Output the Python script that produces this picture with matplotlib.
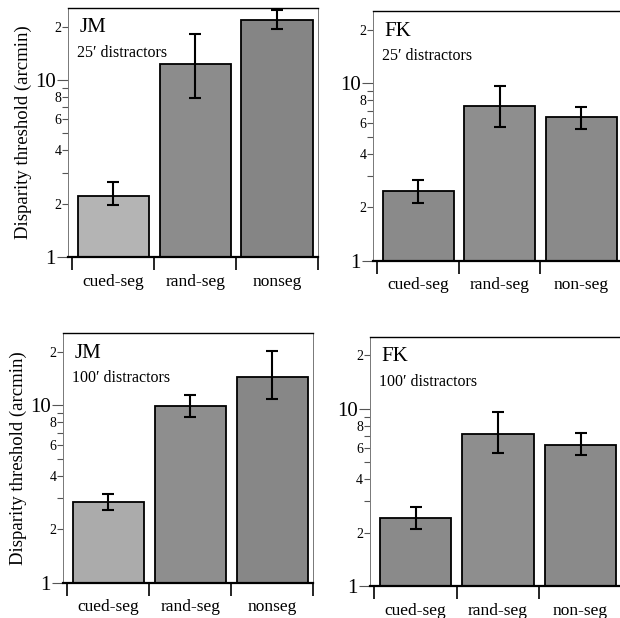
import matplotlib
matplotlib.use('Agg')
import matplotlib.pyplot as plt
import numpy as np

plt.rcParams['font.family'] = ['Liberation Serif', 'DejaVu Serif']

# Datos (arcmin)
cond_jm = ['cued-seg', 'rand-seg', 'nonseg']
cond_fk = ['cued-seg', 'rand-seg', 'non-seg']

jm25 = [2.21, 12.3, 21.8]
jm25_lo = [1.97, 7.9, 19.4]
jm25_hi = [2.65, 18.2, 24.9]

fk25 = [2.46, 7.44, 6.46]
fk25_lo = [2.13, 5.68, 5.53]
fk25_hi = [2.84, 9.6, 7.36]

jm100 = [2.85, 9.85, 14.4]
jm100_lo = [2.57, 8.56, 10.8]
jm100_hi = [3.16, 11.4, 20.3]

fk100 = [2.42, 7.22, 6.26]
fk100_lo = [2.1, 5.65, 5.5]
fk100_hi = [2.8, 9.6, 7.33]

panels = [
    # (pos [left, bottom, w, h], subject, distractor, labels, vals, lo, hi, colors, ylabel)
    ([0.110, 0.584, 0.403, 0.403], 'JM', '25\u2032 distractors', cond_jm,
     jm25, jm25_lo, jm25_hi, ['#b4b4b4', '#8c8c8c', '#858585'], True),
    ([0.602, 0.578, 0.401, 0.404], 'FK', '25\u2032 distractors', cond_fk,
     fk25, fk25_lo, fk25_hi, ['#8a8a8a', '#8e8e8e', '#8a8a8a'], False),
    ([0.102, 0.057, 0.403, 0.404], 'JM', '100\u2032 distractors', cond_jm,
     jm100, jm100_lo, jm100_hi, ['#ababab', '#8e8e8e', '#878787'], True),
    ([0.597, 0.052, 0.406, 0.403], 'FK', '100\u2032 distractors', cond_fk,
     fk100, fk100_lo, fk100_hi, ['#8a8a8a', '#8e8e8e', '#8a8a8a'], False),
]

fig = plt.figure(figsize=(6.2, 6.18), dpi=100)

for pos, subj, dist, labels, vals, lo, hi, cols, ylab in panels:
    ax = fig.add_axes(pos)
    vals = np.array(vals)
    err = [vals - np.array(lo), np.array(hi) - vals]
    x = np.arange(len(vals)) + 0.5
    ax.bar(x, vals, width=0.87, bottom=0, color=cols, edgecolor='black',
           linewidth=1.3, zorder=2)
    ax.errorbar(x, vals, yerr=err, fmt='none', ecolor='black', elinewidth=1.5,
                capsize=4, capthick=1.5, zorder=3)

    ax.set_yscale('log')
    ax.set_ylim(1, 25.5)
    ax.set_xlim(-0.05, 3.0)

    # eixo y: rótulos grandes em 1 e 10, pequenos nos demais
    ax.set_yticks([1, 10])
    ax.set_yticklabels(['1', '10'], fontsize=15)
    minor = [2, 3, 4, 5, 6, 7, 8, 9, 20]
    ax.set_yticks(minor, minor=True)
    ax.set_yticklabels(['2', '', '4', '', '6', '', '8', '', '2'], minor=True,
                       fontsize=10)
    ax.tick_params(axis='y', which='major', length=8, width=0.8, color='#555555',
                   pad=1)
    ax.tick_params(axis='y', which='minor', length=4, width=0.8, color='#555555',
                   pad=1)

    # eixo x: traços nas divisões, rótulos no centro
    ax.set_xticks([0, 1, 2, 3])
    ax.set_xticklabels([])
    ax.set_xticks(x, minor=True)
    ax.set_xticklabels(labels, minor=True, fontsize=12.5)
    ax.tick_params(axis='x', which='major', length=9, width=1.2, direction='out')
    ax.tick_params(axis='x', which='minor', length=0, pad=12)

    ax.spines['left'].set_color('#777777')
    ax.spines['left'].set_linewidth(0.7)
    ax.spines['right'].set_color('#777777')
    ax.spines['right'].set_linewidth(0.7)
    ax.spines['top'].set_linewidth(1.0)
    ax.spines['bottom'].set_linewidth(1.6)

    ax.text(0.045, 0.92, subj, transform=ax.transAxes, fontsize=15,
            va='center', ha='left')
    ax.text(0.035, 0.82, dist, transform=ax.transAxes, fontsize=11.5,
            va='center', ha='left')

    if ylab:
        ax.set_ylabel('Disparity threshold (arcmin)', fontsize=13.5, labelpad=2)

plt.savefig('out.png', dpi=100)
plt.close()
